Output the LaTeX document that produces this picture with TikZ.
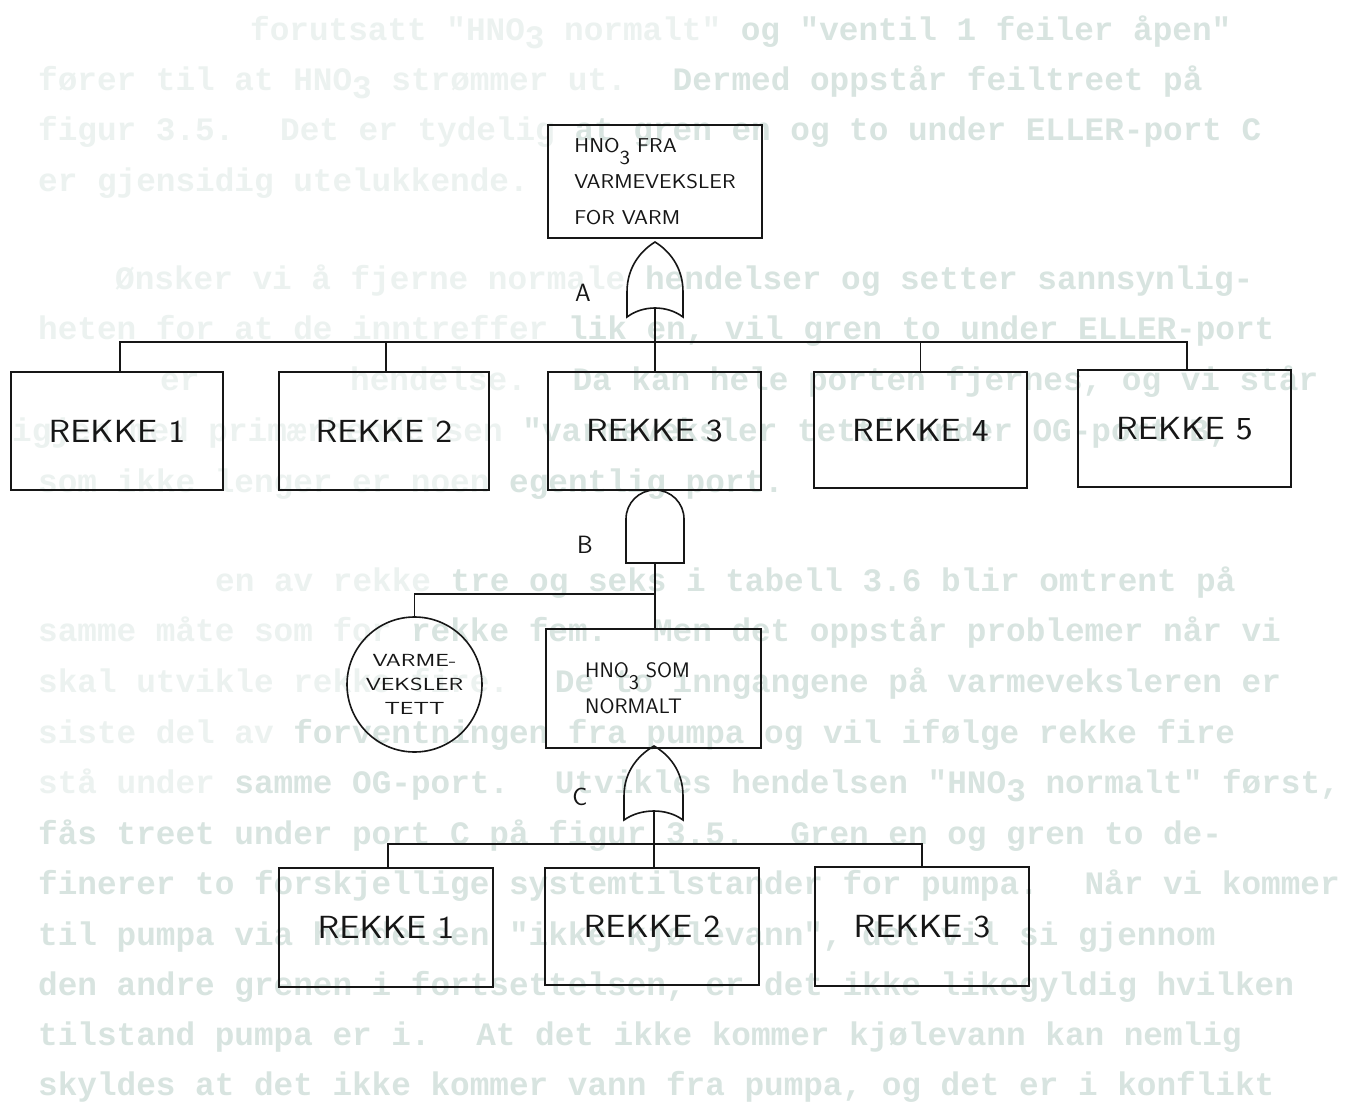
\documentclass[tikz,border=0pt]{standalone}
\usepackage{fontspec}
\usepackage{graphicx}
\newfontfamily\bgfam{Liberation Mono}
\definecolor{bgS}{RGB}{216,228,224}
\definecolor{bgF}{RGB}{236,242,240}
\definecolor{ink}{RGB}{22,22,22}
\newcommand\rkf{\sffamily\fontsize{32}{36}\selectfont}
\newcommand\tbf{\sffamily\fontsize{20}{36}\selectfont}
\newcommand\hnf{\sffamily\fontsize{21}{36}\selectfont}
\newcommand\cif{\sffamily\fontsize{17.5}{24}\selectfont}
\newcommand\lbf{\sffamily\fontsize{25}{30}\selectfont}
\newcommand\hsc[1]{\scalebox{1.12}[1]{#1}}
\newcommand\hsw[1]{\scalebox{1.38}[1]{#1}}
\newcommand\lowr[1]{\raisebox{-8pt}{#1}}
\newcommand\lowd[1]{\raisebox{-12pt}[0pt][0pt]{#1}}
\newcommand\bgl[5]{\node[bgtxt] (#1) at (#2,#3+9) {\textcolor{bgF}{#4}\textcolor{bgS}{#5}};}
\tikzset{
  bgtxt/.style={anchor=base west, inner sep=0pt, font=\bgfam\bfseries\fontsize{32.7}{34}\selectfont},
  box/.style={draw=ink, line width=1.6pt, minimum width=213pt, minimum height=118pt, inner sep=0pt, font=\rkf, text=ink},
  evcircle/.style={draw=ink, line width=1.6pt, circle, minimum size=135pt, inner sep=0pt, align=center, font=\cif, text=ink},
  lbl/.style={inner sep=0pt, font=\lbf, text=ink},
  gateline/.style={draw=ink, line width=1.6pt},
  conn/.style={draw=ink, line width=1.6pt}
}
\begin{document}
\begin{tikzpicture}[x=1pt,y=-1pt]
\useasboundingbox (0,0) rectangle (1360,1102);
\fill[white] (0,0) rectangle (1360,1102);
% background show-through text
\bgl{bg1}{250}{32}{forutsatt "HNO\lowr{3} normalt"}{~og "ventil 1 feiler åpen"}
\bgl{bg2}{38}{82}{fører til at HNO\lowr{3} strømmer ut.~ }{Dermed oppstår feiltreet på}
\bgl{bg3}{38}{132}{figur 3.5.~ Det er tydelig }{at gren en og to under ELLER-port C}
\bgl{bg4}{38}{183}{er gjensidig utelukkende.}{}
\bgl{bg5}{115}{280}{Ønsker vi å fjerne normale }{hendelser og setter sannsynlig-}
\bgl{bg6}{38}{330}{heten for at de inntreffer }{lik en, vil gren to under ELLER-port}
\bgl{bg7a}{160}{381}{er}{}
\bgl{bg7b}{350}{381}{hendelse.~ }{Da kan hele porten fjernes, og vi står}
\bgl{bg8}{12}{432}{igjen med primærhendelsen }{"varmeveksler tett" under OG-port B,}
\bgl{bg9}{38}{483}{som ikke lenger er noen }{egentlig port.}
\bgl{bg10}{215}{582}{en av rekke }{tre og seks i tabell 3.6 blir omtrent på}
\bgl{bg11}{38}{632}{samme måte som for }{rekke fem.~ Men det oppstår problemer når vi}
\bgl{bg12}{38}{683}{skal utvikle rekke fire.~ }{De to inngangene på varmeveksleren er}
\bgl{bg13}{38}{734}{siste del av }{forventningen fra pumpa og vil ifølge rekke fire}
\bgl{bg14}{38}{784}{stå under }{samme OG-port.~ Utvikles hendelsen "HNO\lowr{3} normalt" først,}
\bgl{bg15}{38}{835}{}{fås treet under port C på figur 3.5.~ Gren en og gren to de-}
\bgl{bg16}{38}{885}{}{finerer to forskjellige systemtilstander for pumpa.~ Når vi kommer}
\bgl{bg17}{38}{936}{}{til pumpa via hendelsen "ikke kjølevann", det vil si gjennom}
\bgl{bg18}{38}{986}{}{den andre grenen i fortsettelsen, er det ikke likegyldig hvilken}
\bgl{bg19}{38}{1036}{}{tilstand pumpa er i.~ At det ikke kommer kjølevann kan nemlig}
\bgl{bg20}{38}{1086}{}{skyldes at det ikke kommer vann fra pumpa, og det er i konflikt}

% top event
\node[box, minimum width=214pt, minimum height=113pt, align=left, font=\tbf] (top) at (655,181.5) {\hsc{HNO\lowd{3} FRA}\\\hsc{VARMEVEKSLER}\\\hsc{FOR VARM}};

% gate A (OR)
\coordinate (gAtop) at (655,242);
\coordinate (gAout) at (655,309);
\draw[gateline] (627,317) -- (627,292) .. controls (627,266) and (642,250) .. (gAtop) .. controls (668,250) and (683,266) .. (683,292) -- (683,317) .. controls (667,305) and (643,305) .. cycle;
\node[lbl] (labA) at (583,293) {A};

% first row
\node[box, minimum width=212pt] (r1) at (117,431) {\hsc{REKKE 1}};
\node[box, minimum width=210pt] (r2) at (384,431) {\hsc{REKKE 2}};
\node[box] (r3) at (654.5,431) {\hsc{REKKE 3}};
\node[box, minimum height=116pt] (r4) at (920.5,430) {\hsc{REKKE 4}};
\node[box, minimum height=117pt] (r5) at (1184.5,428.5) {\hsc{REKKE 5}};

\coordinate (barA) at (655,342);
\draw[conn] (gAout) -- (gAout |- r3.north);
\draw[conn] ([xshift=3pt]r1.north) |- (barA) -| ([xshift=2.5pt]r5.north);
\draw[conn] ([xshift=2pt]r2.north) -- ([xshift=2pt]r2.north |- barA);
\draw[conn] (r4.north) -- (r4.north |- barA);

% gate B (AND)
\coordinate (gBtop) at (655,490);
\coordinate (gBout) at (655,563);
\draw[gateline] (626,563) -- (626,519) arc (180:360:29) -- (684,563) -- cycle;
\node[lbl] (labB) at (585,545) {B};

% circle and HNO3 box
\node[evcircle] (ci) at (414.5,684.5) {\hsw{VARME-}\\\hsw{VEKSLER}\\\hsw{TETT}};
\node[box, minimum width=215pt, minimum height=119pt] (hno) at (653.5,688.5) {};
\node[anchor=west, inner sep=0pt, align=left, font=\hnf, text=ink] (hnotxt) at (585,688) {\scalebox{1.03}[1]{HNO\lowd{3} SOM}\\\scalebox{1.03}[1]{NORMALT}};

\coordinate (barB) at (655,594);
\draw[conn] (gBout) -- (gBout |- hno.north);
\draw[conn] (ci.north) |- (barB);

% gate C (OR)
\coordinate (gCtop) at (654,746);
\coordinate (gCout) at (654,812);
\draw[gateline] (624,820) -- (624,796) .. controls (624,770) and (640,754) .. (gCtop) .. controls (668,754) and (683,770) .. (683,796) -- (683,820) .. controls (667,808) and (641,808) .. cycle;
\node[lbl] (labC) at (580,797) {C};

% bottom row
\node[box, minimum width=214pt, minimum height=119pt] (b1) at (386,927.5) {\hsc{REKKE 1}};
\node[box, minimum width=214pt, minimum height=117pt] (b2) at (652,926.5) {\hsc{REKKE 2}};
\node[box, minimum width=214pt, minimum height=119pt] (b3) at (922,926.5) {\hsc{REKKE 3}};

\coordinate (barC) at (655,844);
\draw[conn] (gCout) -- (gCout |- b2.north);
\draw[conn] ([xshift=2pt]b1.north) |- (barC) -| (b3.north);
\end{tikzpicture}
\end{document}
